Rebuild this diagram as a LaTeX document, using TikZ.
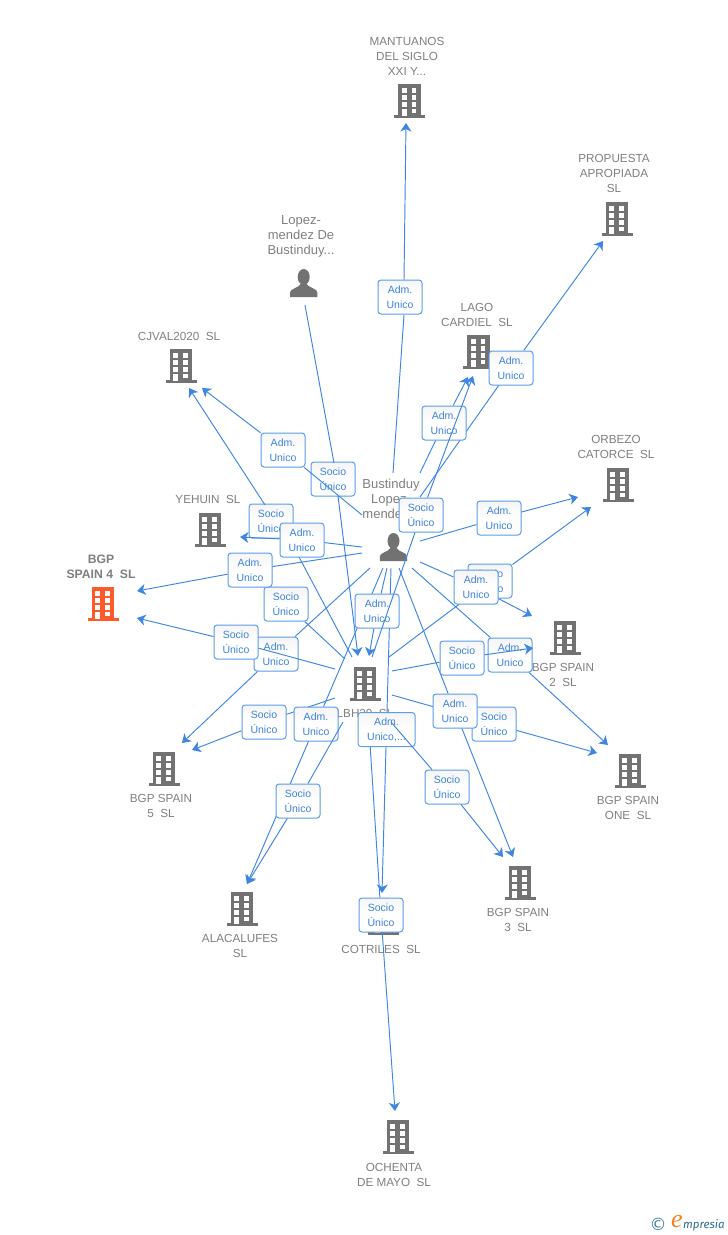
\documentclass[tikz,border=0pt]{standalone}
\usepackage{fontspec}
\setmainfont{Liberation Sans}
\newfontfamily\logofont{Fira Sans}
\newfontfamily\logoe{Liberation Serif}
\newfontfamily\symfont{DejaVu Sans}
\usetikzlibrary{arrows.meta}
\definecolor{linkblue}{HTML}{3F86E3}
\definecolor{tagline}{HTML}{5C9CEA}
\definecolor{tagtext}{HTML}{3F82DC}
\definecolor{nametext}{HTML}{808080}
\definecolor{iconcol}{HTML}{727272}
\definecolor{hotcol}{HTML}{FF5A2B}
\definecolor{logoblue}{HTML}{3F7E98}
\definecolor{logoteal}{HTML}{2A6F88}
\definecolor{logoorange}{HTML}{F58220}
\tikzset{
  x=1pt,y=-1pt,
  link/.style={draw=linkblue,line width=0.95pt},
  linkend/.style={link,-{Stealth[length=8.5pt,width=11pt,inset=2.5pt]}},
  tagbox/.style={draw=tagline,line width=1pt,rounded corners=3pt,top color=black!4,bottom color=white,middle color=white,
    minimum width=44pt,minimum height=34pt,inner sep=0pt,align=center,text=tagtext,
    font=\fontsize{10.5}{15}\selectfont},
  namelabel/.style={align=center,text=nametext,inner sep=0pt,font=\fontsize{11.7}{15}\selectfont},
  personlabel/.style={namelabel,font=\fontsize{13}{15}\selectfont},
  bldg/.pic={
    \fill[pic actions] (-11.3,-17) rectangle (11.3,15);
    \fill[pic actions] (-15.5,14) rectangle (15.5,17);
    \foreach \yy in {-13.5,-6.5,0.5}{
      \fill[white] (-7.8,\yy) rectangle (-2.8,\yy+5);
      \fill[white] (2,\yy) rectangle (6.8,\yy+5);
    }
    \fill[white] (2,7.5) rectangle (6.8,12);
    \fill[white] (-7.8,7.5) rectangle (-2.8,14.5);
  },
  human/.pic={
    \fill[iconcol] (0,-6) ellipse (6 and 8);
    \fill[iconcol] (-13.7,14) -- (-13.7,9.5) .. controls (-13.7,5.5) and (-5,5) .. (-3,1)
      -- (3,1) .. controls (5,5) and (13.7,5.5) .. (13.7,9.5) -- (13.7,14) -- cycle;
  }
}
% name, label position, text, start, end
\newcommand\lnk[5]{%
  \coordinate (#1-s) at (#4);
  \coordinate (#1-e) at (#5);
  \node[tagbox] (#1) at (#2) {#3};
  \draw[link] (#1-s) -- (#1);
  \draw[linkend] (#1) -- (#1-e);
}
% same, for a connector that bends: meets the tag at the two points #6 and #7
\newcommand\lnkvia[7]{%
  \coordinate (#1-s) at (#4);
  \coordinate (#1-e) at (#5);
  \node[tagbox] (#1) at (#2) {#3};
  \coordinate (#1-in) at (#6);
  \coordinate (#1-out) at (#7);
  \draw[link] (#1-s) -- (#1-in);
  \draw[linkend] (#1-out) -- (#1-e);
}
\newcommand\ADM{Adm.~\\Unico}
\newcommand\SOC{Socio\\Único}
\begin{document}
\begin{tikzpicture}
\useasboundingbox (0,0) rectangle (728,1235);
\fill[white] (0,0) rectangle (728,1235);

% icons
\coordinate (mant) at (409.5,101); \pic[fill=iconcol] at (mant) {bldg};
\coordinate (prop) at (617,219); \pic[fill=iconcol] at (prop) {bldg};
\coordinate (lago) at (478.5,352); \pic[fill=iconcol] at (lago) {bldg};
\coordinate (cjval) at (181,366); \pic[fill=iconcol] at (cjval) {bldg};
\coordinate (yeh) at (210,530); \pic[fill=iconcol] at (yeh) {bldg};
\coordinate (bgp4) at (103,604); \pic[fill=hotcol] at (bgp4) {bldg};
\coordinate (orb) at (618,485); \pic[fill=iconcol] at (orb) {bldg};
\coordinate (bgp2) at (565,638); \pic[fill=iconcol] at (bgp2) {bldg};
\coordinate (lbh) at (365,684); \pic[fill=iconcol] at (lbh) {bldg};
\coordinate (one) at (630,771); \pic[fill=iconcol] at (one) {bldg};
\coordinate (bgp5) at (164,769); \pic[fill=iconcol] at (bgp5) {bldg};
\coordinate (bgp3) at (520,883); \pic[fill=iconcol] at (bgp3) {bldg};
\coordinate (alac) at (242,909); \pic[fill=iconcol] at (alac) {bldg};
\coordinate (cot) at (383,918); \pic[fill=iconcol] at (cot) {bldg};
\coordinate (och) at (398,1137); \pic[fill=iconcol] at (och) {bldg};
\coordinate (lopez) at (303.7,283); \pic at (lopez) {human};
\coordinate (bust) at (393.5,547); \pic at (bust) {human};

% names
\node[namelabel] (n-mant) at (407,56) {MANTUANOS\\DEL SIGLO\\XXI Y...};
\node[namelabel] (n-prop) at (614,173) {PROPUESTA\\APROPIADA\\SL};
\node[personlabel] (n-lopez) at (301,236) {Lopez-\\mendez De\\Bustinduy...};
\node[namelabel] (n-lago) at (477,314.5) {LAGO\\CARDIEL~~SL};
\node[namelabel] (n-cjval) at (179,336) {CJVAL2020~~SL};
\node[namelabel] (n-yeh) at (208,499) {YEHUIN~~SL};
\node[namelabel,font=\fontsize{12.2}{15}\selectfont\bfseries] (n-bgp4) at (101,566.5) {BGP\\SPAIN 4~~SL};
\node[namelabel] (n-orb) at (616,446.5) {ORBEZO\\CATORCE~~SL};
\node[namelabel] (n-bgp2) at (563,674.5) {BGP SPAIN\\2~~SL};
\node[namelabel] (n-lbh) at (365,713) {LBH20~~SL};
\node[namelabel] (n-one) at (628,807.5) {BGP SPAIN\\ONE~~SL};
\node[namelabel] (n-bgp5) at (161,805.5) {BGP SPAIN\\5~~SL};
\node[namelabel] (n-bgp3) at (518,919.5) {BGP SPAIN\\3~~SL};
\node[namelabel] (n-alac) at (240,945.5) {ALACALUFES\\SL};
\node[namelabel] (n-cot) at (381,949) {COTRILES~~SL};
\node[namelabel] (n-och) at (394,1174.5) {OCHENTA\\DE MAYO~~SL};
\node[personlabel] (n-bust) at (391,499) {Bustinduy\\Lopez-\\mendez...};

% connectors with their tags, in stacking order
\lnkvia{a}{333,479}{\SOC}{305,305}{358,656}{334,463}{338,496}
\lnk{b}{283,450}{\ADM}{362,515}{202,388}
\lnkvia{c}{271,521}{\SOC}{352,657}{189,388}{290,540}{265,505}
\lnk{d}{302,540}{\ADM}{362,547}{240,537}
\lnk{e}{286,604}{\SOC}{345,659}{250,566}
\lnk{f}{250,570}{\ADM}{362,553}{137,591}
\lnk{g}{276,654}{\ADM}{370,568}{182,743}
\lnk{h}{236,642}{\SOC}{335,669}{137,618}
\lnk{i}{264,722}{\SOC}{335,698}{192,750}
\lnk{j}{316,724}{\ADM}{383,568}{247,884}
\lnk{k}{298,801}{\SOC}{343,722}{247,884}
\lnkvia{l}{400,297}{\ADM}{393,473}{406,123}{404,315}{404,280}
\lnk{m}{511,368}{\ADM}{420,497}{603,241}
\lnk{n}{444,423}{\ADM}{420,473}{468,377}
\lnk{z}{381,915}{\SOC}{368,712}{395,1111}
\coordinate (y-s) at (391,568);
\coordinate (y-e) at (382,893);
\node[tagbox,minimum width=57pt] (y) at (386.5,729.5) {Adm.~\\Unico,...};
\draw[link] (y-s) -- (y);
\draw[linkend] (y) -- (y-e);
\lnk{o}{377,611}{\ADM}{387,568}{369,656}
\lnk{p}{421,515}{\SOC}{372,657}{473,376}
\lnk{q}{490,581}{\SOC}{389,657}{591,507}
\lnk{r}{499,518}{\ADM}{420,541}{578,497}
\lnk{s}{476,587}{\ADM}{420,562}{532,616}
\lnk{t}{510,655}{\ADM}{412,568}{608,745}
\lnk{u}{494,724}{\SOC}{392,695}{597,753}
\lnk{v}{455,711}{\ADM}{399,568}{513,857}
\lnk{w}{462,658}{\SOC}{392,671}{533,648}
\lnk{x}{447,787}{\SOC}{391,722}{503,857}

% logo
\node[inner sep=0pt,text=logoblue,font=\symfont\fontsize{17}{17}\selectfont] (logo-c) at (658,1224) {©};
\node[inner sep=0pt,text=logoorange,font=\logoe\itshape\fontsize{26}{26}\selectfont] (logo-e) at (677,1221) {e};
\node[inner sep=0pt,anchor=base west,text=logoteal,font=\logofont\itshape\fontsize{11.5}{11.5}\selectfont] (logo-t) at (683,1228) {mpresia};
\end{tikzpicture}
\end{document}
